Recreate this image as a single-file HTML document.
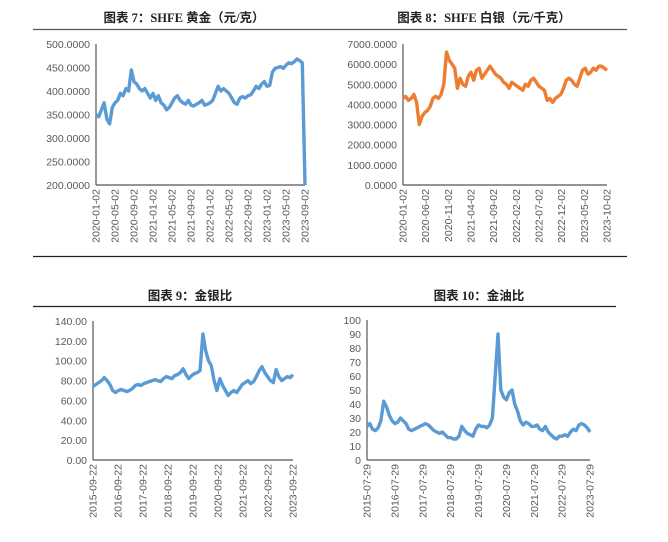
<!DOCTYPE html>
<html><head><meta charset="utf-8"><style>
body{margin:0;background:#fff;width:668px;height:542px;overflow:hidden}
svg{display:block}
.t{font-family:"Liberation Serif","Noto Sans CJK SC",sans-serif;font-weight:bold;font-size:12.5px;fill:#222}
.yl{font-family:"Liberation Sans",sans-serif;font-size:10.5px;fill:#595959}
.xl{font-family:"Liberation Sans",sans-serif;font-size:10.5px;fill:#595959}
</style></head><body>
<svg id="s" width="668" height="542">
<text class="t" x="184" y="22" text-anchor="middle">图表 7：SHFE 黄金（元/克）</text>
<text class="t" x="484" y="22" text-anchor="middle">图表 8：SHFE 白银（元/千克）</text>
<text class="t" x="190" y="300" text-anchor="middle">图表 9：金银比</text>
<text class="t" x="479" y="300" text-anchor="middle">图表 10：金油比</text>
<line x1="33" y1="29.5" x2="334" y2="29.5" stroke="#555" stroke-width="1.2"/>
<line x1="334" y1="29.5" x2="627" y2="29.5" stroke="#555" stroke-width="1.2"/>
<line x1="33" y1="256.5" x2="334" y2="256.5" stroke="#222" stroke-width="1.2"/>
<line x1="334" y1="256.5" x2="627" y2="256.5" stroke="#222" stroke-width="1.2"/>
<line x1="33" y1="306.5" x2="334" y2="306.5" stroke="#222" stroke-width="1.2"/>
<line x1="334" y1="306.5" x2="616" y2="306.5" stroke="#222" stroke-width="1.2"/>
</svg>
<script>
const goldTicks=["200.0000","250.0000","300.0000","350.0000","400.0000","450.0000","500.0000"];
const goldDates=["2020-01-02","2020-05-02","2020-09-02","2021-01-02","2021-05-02","2021-09-02","2022-01-02","2022-05-02","2022-09-02","2023-01-02","2023-05-02","2023-09-02"];
const goldValues=[350,345,360,375,340,330,365,375,380,395,390,405,400,445,420,415,405,400,405,395,385,395,380,390,375,370,360,365,375,385,390,380,375,372,380,370,368,372,375,380,370,372,375,380,395,410,400,405,400,395,385,375,372,385,388,385,390,392,400,410,405,415,420,410,412,440,448,450,452,448,455,460,458,462,468,465,460,200];
const silverTicks=["0.0000","1000.0000","2000.0000","3000.0000","4000.0000","5000.0000","6000.0000","7000.0000"];
const silverDates=["2020-01-02","2020-06-02","2020-11-02","2021-04-02","2021-09-02","2022-02-02","2022-07-02","2022-12-02","2023-05-02","2023-10-02"];
const silverValues=[4300,4400,4200,4300,4500,4100,3000,3400,3600,3700,3900,4300,4400,4300,4500,5000,6600,6200,6000,5800,4800,5300,5000,4900,5400,5600,5200,5700,5800,5300,5500,5700,5900,5700,5500,5400,5300,5100,5000,4800,5100,5000,4900,4800,4700,5000,4900,5200,5300,5100,4900,4800,4700,4200,4300,4100,4300,4400,4500,4800,5200,5300,5200,5000,4900,5300,5700,5800,5500,5600,5800,5700,5900,5900,5800,5700];
const ratioTicks=["0.00","20.00","40.00","60.00","80.00","100.00","120.00","140.00"];
const ratioDates=["2015-09-22","2016-09-22","2017-09-22","2018-09-22","2019-09-22","2020-09-22","2021-09-22","2022-09-22","2023-09-22"];
const ratioValues=[74,76,78,80,83,80,76,70,68,70,71,70,69,70,72,75,76,75,77,78,79,80,81,80,79,82,84,83,82,85,86,88,92,86,82,85,87,88,90,127,110,100,95,80,70,82,75,70,65,68,70,68,72,76,78,80,77,79,84,90,94,88,84,80,78,91,84,80,82,84,83,86];
const oilTicks=["0","10","20","30","40","50","60","70","80","90","100"];
const oilDates=["2015-07-29","2016-07-29","2017-07-29","2018-07-29","2019-07-29","2020-07-29","2021-07-29","2022-07-29","2023-07-29"];
const oilValues=[24,26,22,21,23,28,42,38,32,28,26,27,30,28,26,22,21,22,23,24,25,26,25,23,21,20,19,20,18,16,16,15,15,17,24,21,19,18,17,22,25,24,24,23,25,30,60,90,50,45,43,48,50,40,35,28,25,27,26,24,24,25,22,21,24,20,18,16,15,17,17,18,17,20,22,21,25,26,25,23,20];

const svg=document.getElementById('s');
const NS='http://www.w3.org/2000/svg';
function mk(tag,attrs){const e=document.createElementNS(NS,tag);for(const k in attrs)e.setAttribute(k,attrs[k]);svg.appendChild(e);return e;}

function chart(id,ticks,dates,values,ax,color){
  const ymin=parseFloat(ticks[0]),ymax=parseFloat(ticks[ticks.length-1]);
  const ys=v=>ax.y1-(v-ymin)/(ymax-ymin)*(ax.y1-ax.y0);
  const xs=i=>ax.x0+i/(values.length-1)*(ax.x1-ax.x0);
  const xd=i=>ax.x0+i/(dates.length-1)*(ax.x1-ax.x0);
  ticks.forEach((t,i)=>{
    const tx=mk('text',{class:'yl',x:ax.x0-6,y:ys(parseFloat(t))+4,'text-anchor':'end'});
    
    
    tx.textContent=t;
  });
  dates.forEach((d,i)=>{
    const x=xd(i)+3.5,y=ax.y1+4;
    const tx=mk('text',{class:'xl',x:x,y:y,'text-anchor':'end',transform:'rotate(-90 '+x+' '+y+')'});
    
    
    tx.textContent=d;
  });
  const ya=mk('line',{x1:ax.x0,y1:ax.y0,x2:ax.x0,y2:ax.y1,stroke:'#555','stroke-width':1.2});
  
  
  const xa=mk('line',{x1:ax.x0,y1:ax.y1,x2:ax.x1,y2:ax.y1,stroke:'#555','stroke-width':1.2});
  
  
  const pts=values.map((v,i)=>xs(i).toFixed(1)+','+ys(v).toFixed(1)).join(' ');
  const pl=mk('polyline',{points:pts,fill:'none',stroke:color,'stroke-width':3.4,'stroke-linejoin':'round'});
  
  
}
chart('chart7',goldTicks,goldDates,goldValues,{x0:96,x1:305,y0:44,y1:185},'#5b9bd5');
chart('chart8',silverTicks,silverDates,silverValues,{x0:403,x1:607,y0:44,y1:185},'#ed7d31');
chart('chart9',ratioTicks,ratioDates,ratioValues,{x0:93,x1:293,y0:321,y1:460},'#5b9bd5');
chart('chart10',oilTicks,oilDates,oilValues,{x0:367,x1:590,y0:320,y1:460},'#5b9bd5');
</script>
</body></html>
